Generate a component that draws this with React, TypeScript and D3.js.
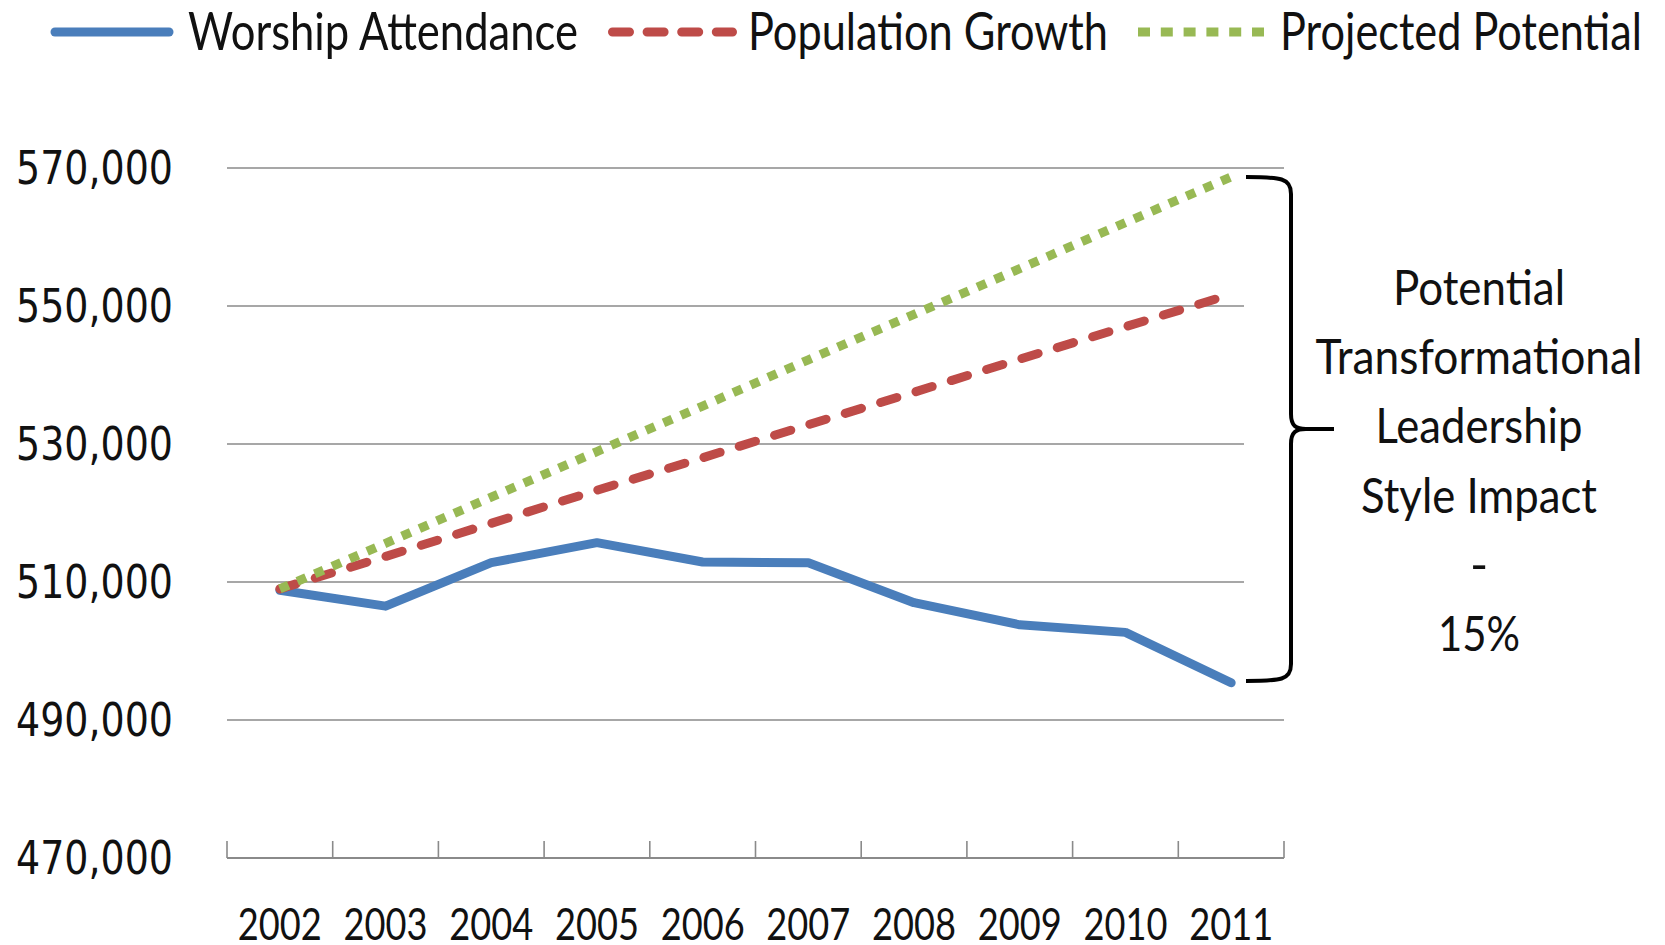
import React from 'react';
import * as d3 from 'd3';

const years = ['2002', '2003', '2004', '2005', '2006', '2007', '2008', '2009', '2010', '2011'];
const worshipAttendance = [508800, 506500, 512800, 515700, 512900, 512800, 507000, 503800, 502700, 495400];
const populationGrowth = [509000, 513700, 518500, 523300, 528000, 532800, 537500, 542300, 547000, 551700];
const projectedPotential = [509000, 515600, 522300, 528900, 535500, 542200, 548800, 555400, 562100, 568700];
const yTicks = [470000, 490000, 510000, 530000, 550000, 570000];
const seriesNames = ['Worship Attendance', 'Population Growth', 'Projected Potential'];
const annotationLines = ['Potential', 'Transformational', 'Leadership', 'Style Impact', '-', '15%'];

const W = 1665;
const H = 945;
const plot = { left: 227, right: 1284, top: 168, bottom: 858 };
const colors = ['#4A7EBB', '#BE4B48', '#98B954'];
const gridColor = '#8A8A8A';
const textFont = 'Lato, "Open Sans", sans-serif';

// layout widths for horizontally condensed text
const legendLayout = [
  { lineX0: 55, lineX1: 169, textX: 188, textLen: 390 },
  { lineX0: 612.5, lineX1: 732.5, textX: 748, textLen: 360 },
  { lineX0: 1138, lineX1: 1264, textX: 1280, textLen: 362 },
];
const annotationWidths = [172, 327, 207, 236, 0, 82];

export default function App() {
  const x = d3.scaleBand<string>().domain(years).range([plot.left, plot.right]);
  const bw = x.bandwidth();
  const cx = (yr: string) => (x(yr) as number) + bw / 2;
  const y = d3.scaleLinear().domain([470000, 570000]).range([plot.bottom, plot.top]);
  const fmt = d3.format(',');

  const line = d3
    .line<number>()
    .x((_, i) => cx(years[i]))
    .y((d) => y(d));

  const series = [worshipAttendance, populationGrowth, projectedPotential];
  const dashes = [undefined, '17 20', '9.5 9.5'];
  const caps = ['round', 'round', 'butt'];
  const legendDashes = [undefined, '17 17.6', '12 10.8'];

  const tickXs = [...years.map((yr) => x(yr) as number), plot.right];

  const braceTop = 177;
  const braceBot = 681;
  const braceMid = (braceTop + braceBot) / 2;
  const bx = 1291;
  const bEnd = 1246;
  const tip = 1334;
  const bracePath = `M${bEnd},${braceTop} C${bx - 10},${braceTop} ${bx},${braceTop + 1} ${bx},${braceTop + 17}
    L${bx},${braceMid - 15} C${bx},${braceMid - 3} ${bx + 5},${braceMid} ${bx + 15},${braceMid} L${tip},${braceMid}
    M${bx + 15},${braceMid} C${bx + 5},${braceMid} ${bx},${braceMid + 3} ${bx},${braceMid + 15}
    L${bx},${braceBot - 17} C${bx},${braceBot - 1} ${bx - 10},${braceBot} ${bEnd},${braceBot}`;

  const annCx = 1479;
  const annBase0 = 305;
  const annStep = 69.2;

  return (
    <svg width={W} height={H} style={{ position: 'absolute', left: 0, top: 0, display: 'block', background: '#fff' }}>
      {/* gridlines */}
      {yTicks.slice(1).map((t) => (
        <line key={t} x1={plot.left} x2={plot.right} y1={y(t)} y2={y(t)} stroke={gridColor} strokeWidth={1.6} />
      ))}
      {/* x axis */}
      <line x1={plot.left} x2={plot.right} y1={plot.bottom} y2={plot.bottom} stroke={gridColor} strokeWidth={2} />
      {tickXs.map((tx, i) => (
        <line key={i} x1={tx} x2={tx} y1={plot.bottom - 17} y2={plot.bottom} stroke={gridColor} strokeWidth={1.6} />
      ))}
      {/* y labels */}
      {yTicks.map((t) => (
        <text
          key={t}
          x={16}
          y={y(t) + 16}
          fontFamily='"DejaVu Sans", Verdana, sans-serif'
          fontSize={46}
          fill="#111"
          textLength={157}
          lengthAdjust="spacingAndGlyphs"
        >
          {fmt(t)}
        </text>
      ))}
      {/* x labels */}
      {years.map((yr) => (
        <text
          key={yr}
          x={cx(yr) - 42}
          y={940}
          fontFamily={textFont}
          fontSize={45}
          fill="#111"
          textLength={84}
          lengthAdjust="spacingAndGlyphs"
        >
          {yr}
        </text>
      ))}
      {/* series */}
      {series.map((s, i) => (
        <path
          key={i}
          d={line(s) as string}
          fill="none"
          stroke={colors[i]}
          strokeWidth={9}
          strokeDasharray={dashes[i]}
          strokeLinecap={caps[i] as any}
          strokeLinejoin="round"
        />
      ))}
      {/* white box behind brace */}
      <rect x={1244} y={braceTop + 2} width={60} height={braceBot - braceTop - 4} fill="#fff" />
      <path d={bracePath} fill="none" stroke="#000" strokeWidth={4} />
      {/* annotation */}
      {annotationLines.map((t, i) =>
        annotationWidths[i] > 0 ? (
          <text
            key={i}
            x={annCx - annotationWidths[i] / 2}
            y={annBase0 + i * annStep}
            fontFamily={textFont}
            fontSize={49}
            fill="#111"
            textLength={annotationWidths[i]}
            lengthAdjust="spacingAndGlyphs"
          >
            {t}
          </text>
        ) : (
          <text key={i} x={annCx} y={annBase0 + i * annStep} textAnchor="middle" fontFamily={textFont} fontSize={49} fill="#111">
            {t}
          </text>
        )
      )}
      {/* legend */}
      {seriesNames.map((name, i) => (
        <g key={name}>
          <line
            x1={legendLayout[i].lineX0}
            x2={legendLayout[i].lineX1}
            y1={32}
            y2={32}
            stroke={colors[i]}
            strokeWidth={9}
            strokeDasharray={legendDashes[i]}
            strokeLinecap={caps[i] as any}
          />
          <text
            x={legendLayout[i].textX}
            y={50}
            fontFamily={textFont}
            fontSize={53}
            fill="#111"
            textLength={legendLayout[i].textLen}
            lengthAdjust="spacingAndGlyphs"
          >
            {name}
          </text>
        </g>
      ))}
    </svg>
  );
}
